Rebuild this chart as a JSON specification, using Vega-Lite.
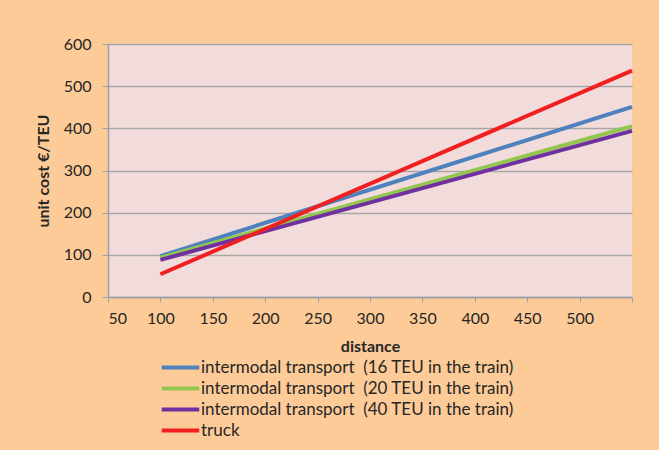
{
  "$schema": "https://vega.github.io/schema/vega-lite/v6.json",
  "width": 524,
  "height": 253,
  "autosize": "none",
  "padding": {"left": 108, "top": 44, "right": 27, "bottom": 153},
  "background": "#FDCB98",
  "config": {
    "font": "Lato",
    "view": {"fill": "#F2DCDB", "stroke": null},
    "axis": {"labelFont": "Lato", "titleFont": "Lato", "labelColor": "#262626", "titleColor": "#262626", "labelFontSize": 16, "titleFontSize": 16, "titleFontWeight": "bold", "domainColor": "#9aa0a8", "tickColor": "#9aa0a8", "gridColor": "#A6A6A6", "gridWidth": 1.5}
  },
  "data": {
    "values": [
      {"distance": 100, "cost": 97, "series": "intermodal transport\u00a0 (16 TEU in the train)"},
      {"distance": 550, "cost": 451, "series": "intermodal transport\u00a0 (16 TEU in the train)"},
      {"distance": 100, "cost": 93, "series": "intermodal transport\u00a0 (20 TEU in the train)"},
      {"distance": 550, "cost": 405, "series": "intermodal transport\u00a0 (20 TEU in the train)"},
      {"distance": 100, "cost": 88, "series": "intermodal transport\u00a0 (40 TEU in the train)"},
      {"distance": 550, "cost": 394, "series": "intermodal transport\u00a0 (40 TEU in the train)"},
      {"distance": 100, "cost": 54, "series": "truck"},
      {"distance": 550, "cost": 537, "series": "truck"}
    ]
  },
  "mark": {"type": "line", "strokeWidth": 4},
  "encoding": {
    "x": {
      "field": "distance", "type": "quantitative",
      "scale": {"domain": [50, 550], "nice": false},
      "axis": {"values": [50, 100, 150, 200, 250, 300, 350, 400, 450, 500, 550], "labelExpr": "datum.value == 550 ? '' : datum.label", "grid": false, "tickSize": 5, "labelPadding": 8, "title": "distance", "titlePadding": 12, "domainWidth": 1.5}
    },
    "y": {
      "field": "cost", "type": "quantitative",
      "scale": {"domain": [0, 600], "nice": false},
      "axis": {"values": [0, 100, 200, 300, 400, 500, 600], "tickSize": 6, "labelPadding": 11, "title": "unit cost €/TEU", "titlePadding": 12, "domainWidth": 1.5}
    },
    "color": {
      "field": "series", "type": "nominal",
      "scale": {"range": ["#4F81BD", "#92C64F", "#7030A0", "#F02020"]},
      "legend": {
        "title": null, "orient": "none", "legendX": 63, "legendY": 314,
        "symbolType": "M-2.5,0H2.5", "symbolSize": 225, "symbolStrokeWidth": 4,
        "labelFontSize": 17, "labelColor": "#262626", "labelFont": "Lato", "labelOffset": 11,
        "rowPadding": 3, "labelLimit": 450
      }
    }
  }
}
